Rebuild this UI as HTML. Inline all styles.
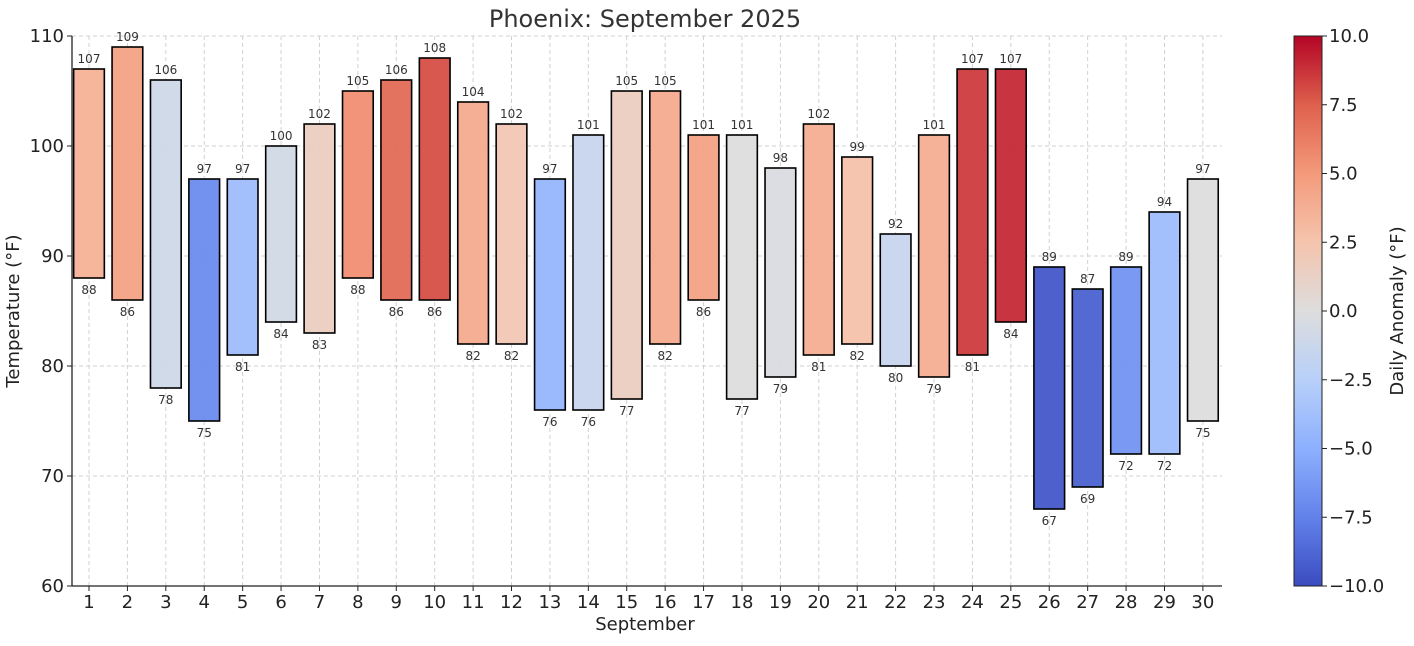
<!DOCTYPE html>
<html><head><meta charset="utf-8"><style>
body{margin:0;background:#fff;font-family:"Liberation Sans","DejaVu Sans",sans-serif}
svg text{font-family:"DejaVu Sans","Liberation Sans",sans-serif}
</style></head><body>
<svg id="c" width="1414" height="641" xmlns="http://www.w3.org/2000/svg">
<defs><linearGradient id="cw" x1="0" y1="1" x2="0" y2="0">
<stop offset="0" stop-color="rgb(59,76,192)"/><stop offset="0.125" stop-color="rgb(98,130,234)"/>
<stop offset="0.25" stop-color="rgb(141,176,254)"/><stop offset="0.375" stop-color="rgb(184,208,249)"/>
<stop offset="0.5" stop-color="rgb(221,221,221)"/><stop offset="0.625" stop-color="rgb(245,196,173)"/>
<stop offset="0.75" stop-color="rgb(244,154,123)"/><stop offset="0.875" stop-color="rgb(222,96,77)"/>
<stop offset="1" stop-color="rgb(180,4,38)"/></linearGradient></defs>
</svg>
<script>
const days=[1,2,3,4,5,6,7,8,9,10,11,12,13,14,15,16,17,18,19,20,21,22,23,24,25,26,27,28,29,30];
const highs=[107,109,106,97,97,100,102,105,106,108,104,102,97,101,105,105,101,101,98,102,99,92,101,107,107,89,87,89,94,97];
const lows=[88,86,78,75,81,84,83,88,86,86,82,82,76,76,77,82,86,77,79,81,82,80,79,81,84,67,69,72,72,75];
const anomalies=[3.6,4.5,-1,-7,-4,-0.8,1.5,5.5,7,8,4,2.2,-4.5,-1.5,1.5,4,4.5,0,-0.3,3.8,2.6,-1.5,3.8,8.5,9,-9.5,-9,-6.5,-4,0];
const yTicks=[60,70,80,90,100,110];
const cbTicks=[-10,-7.5,-5,-2.5,0,2.5,5,7.5,10];
const svg=document.getElementById('c');const NS='http://www.w3.org/2000/svg';
const L=72,R=1222,T=36,B=586;
const x=d=>89+(d-1)*38.41;
const y=v=>B-(v-60)/50*(B-T);
function el(t,a,p){const e=document.createElementNS(NS,t);for(const k in a)e.setAttribute(k,a[k]);(p||svg).appendChild(e);return e;}
const stops=[[59,76,192],[98,130,234],[141,176,254],[184,208,249],[221,221,221],[245,196,173],[244,154,123],[222,96,77],[180,4,38]];
function cw(a){let t=Math.max(0,Math.min(1,(a+10)/20))*8;let i=Math.min(7,Math.floor(t)),f=t-i;const c=stops[i].map((v,k)=>Math.round(v+(stops[i+1][k]-v)*f));return `rgb(${c})`;}
yTicks.forEach(v=>{const g=el('line',{x1:L,x2:R,y1:y(v),y2:y(v),stroke:'#d0d0d0','stroke-dasharray':'4,3','stroke-width':1});

const t=el('text',{x:L-8,y:y(v)+6,'text-anchor':'end','font-size':18,fill:'#222'});t.textContent=v;
});
days.forEach(d=>{const g=el('line',{x1:x(d),x2:x(d),y1:T,y2:B,stroke:'#d0d0d0','stroke-dasharray':'4,3','stroke-width':1});

const t=el('text',{x:x(d),y:B+22,'text-anchor':'middle','font-size':18,fill:'#222'});t.textContent=d;

el('line',{x1:x(d),x2:x(d),y1:B,y2:B+5,stroke:'#222'});});
days.forEach((d,i)=>{const bw=30.7;
const r=el('rect',{x:x(d)-bw/2,y:y(highs[i]),width:bw,height:y(lows[i])-y(highs[i]),fill:cw(anomalies[i]),'fill-opacity':0.95,stroke:'#000','stroke-width':1.6});

const h=el('text',{x:x(d),y:y(highs[i])-6,'text-anchor':'middle','font-size':12,fill:'#333'});h.textContent=highs[i];

const lo=el('text',{x:x(d),y:y(lows[i])+16,'text-anchor':'middle','font-size':12,fill:'#333'});lo.textContent=lows[i];
});
el('line',{x1:L,x2:L,y1:T,y2:B,stroke:'#222','stroke-width':1.3});
el('line',{x1:L,x2:R,y1:B,y2:B,stroke:'#222','stroke-width':1.3});
yTicks.forEach(v=>el('line',{x1:L-5,x2:L,y1:y(v),y2:y(v),stroke:'#222'}));
let t=el('text',{x:645,y:27,'text-anchor':'middle','font-size':24,fill:'#333'});t.textContent='Phoenix: September 2025';

t=el('text',{x:645,y:630,'text-anchor':'middle','font-size':18,fill:'#222'});t.textContent='September';

t=el('text',{x:0,y:0,'text-anchor':'middle','font-size':18,fill:'#222',transform:'translate(19,311) rotate(-90)'});t.textContent='Temperature (°F)';

const cb=el('rect',{x:1294,y:T,width:28,height:B-T,fill:'url(#cw)',stroke:'#222','stroke-width':1});

cbTicks.forEach(v=>{const yy=B-(v+10)/20*(B-T);el('line',{x1:1322,x2:1327,y1:yy,y2:yy,stroke:'#222'});
const s=el('text',{x:1329,y:yy+6,'font-size':18,fill:'#222'});s.textContent=(v<0?'−':'')+Math.abs(v).toFixed(1);
});
t=el('text',{x:0,y:0,'text-anchor':'middle','font-size':18,fill:'#222',transform:'translate(1403,311) rotate(-90)'});t.textContent='Daily Anomaly (°F)';

</script></body></html>
